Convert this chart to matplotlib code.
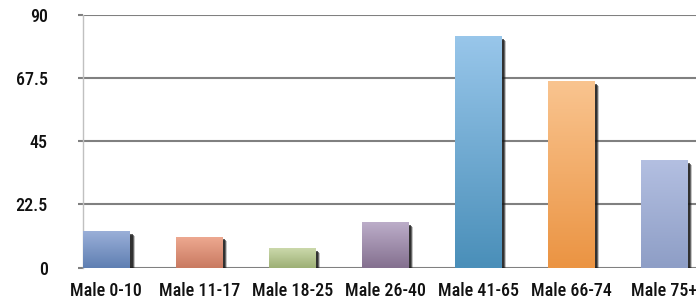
import numpy as np
import matplotlib
matplotlib.use("Agg")
import matplotlib.pyplot as plt
import matplotlib.transforms as mtransforms
from matplotlib.patches import Rectangle
from matplotlib.colors import to_rgb

categories = ["Male 0-10", "Male 11-17", "Male 18-25", "Male 26-40",
              "Male 41-65", "Male 66-74", "Male 75+"]
values = [13.0, 11.0, 7.0, 16.2, 82.4, 66.2, 38.2]
top_colors = ["#9aafd8", "#eda890", "#cbd8ab", "#bcadc9", "#98c6ea", "#f9c48f", "#b3bfe1"]
bottom_colors = ["#5f7fb2", "#c97a61", "#9db075", "#84708f", "#4a8fb9", "#eb9443", "#8e9ec6"]
yticks = [0, 22.5, 45, 67.5, 90]
ytick_labels = ["0", "22.5", "45", "67.5", "90"]

plt.rcParams['font.family'] = ['Roboto Condensed', 'Barlow Semi Condensed', 'Archivo Narrow', 'DejaVu Sans']

fig = plt.figure(figsize=(6.96, 3.03), dpi=100)
ax = fig.add_axes([83/696, 35.3/303, 651/696, 253/303])

bar_w = 0.5
x = np.arange(len(categories))

# shadows
for xi, v in zip(x, values):
    for dx, dy, a in [(5.0, -4.5, 0.25), (4.0, -3.5, 0.55), (3.0, -2.5, 0.7)]:
        tr = mtransforms.offset_copy(ax.transData, fig=fig, x=dx, y=dy, units='dots')
        ax.add_patch(Rectangle((xi, 0), bar_w, v, transform=tr, facecolor="#1a1a1a",
                               edgecolor='none', alpha=a, zorder=2))

# gradient bars
for xi, v, ct, cb in zip(x, values, top_colors, bottom_colors):
    t = np.array(to_rgb(ct)); b = np.array(to_rgb(cb))
    f = np.linspace(0, 1, 64)[:, None]
    grad = (t[None, :] * (1 - f) + b[None, :] * f)[:, None, :]
    ax.imshow(grad, extent=[xi, xi + bar_w, 0, v], aspect='auto', zorder=3,
              interpolation='bilinear')

ax.set_xlim(0, len(categories))
ax.set_ylim(0, 90)

for yv in yticks:
    ax.axhline(yv, color="#808080", lw=1.5, zorder=1)

ax.set_yticks(yticks)
ax.set_yticklabels(ytick_labels, fontsize=13, fontweight='medium', color='#111111')
ax.set_xticks(x + bar_w / 2)
ax.set_xticklabels(categories, fontsize=13, fontweight='medium', color='#111111')
ax.tick_params(axis='y', length=3.6, width=1.5, color="#808080", pad=21.6)
ax.tick_params(axis='x', length=0, pad=10)
for lbl in ax.get_yticklabels():
    lbl.set_horizontalalignment('right')

for s in ['top', 'right', 'bottom']:
    ax.spines[s].set_visible(False)
ax.spines['left'].set_color('#c0c0c0')
ax.spines['left'].set_linewidth(1)

fig.savefig("out.png", dpi=100)
